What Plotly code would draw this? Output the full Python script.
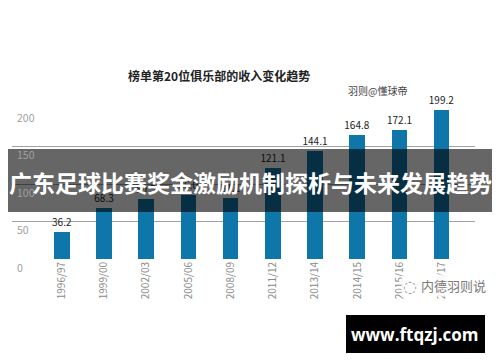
import plotly.graph_objects as go

seasons = ["1996/97", "1999/00", "2002/03", "2005/06", "2008/09",
           "2011/12", "2013/14", "2014/15", "2015/16", "2016/17"]
revenue = [36.2, 68.3, 80.5, 86.0, 81.1, 121.1, 144.1, 164.8, 172.1, 199.2]
y_ticks = [0, 50, 100, 150, 200]

title_text = "榜单第20位俱乐部的收入变化趋势"
subtitle_text = "羽则@懂球帝"
banner_text = "广东足球比赛奖金激励机制探析与未来发展趋势"
site_text = "www.ftqzj.com"
mark_text = "内德羽则说"

CJK = "Noto Sans CJK SC"
L, R, T, B = 12, 25, 109, 103
PW = 500 - L - R
PH = 362 - T - B


def px(x):
    return (x - L) / PW


def py(y):
    return (362 - B - y) / PH


fig = go.Figure()
fig.add_trace(go.Bar(
    x=list(range(len(seasons))), y=revenue,
    width=0.37,
    marker=dict(color="#0f76a9", line=dict(width=0)),
    text=[f"{v:.1f}" for v in revenue],
    textposition="outside",
    constraintext="none",
    textfont=dict(family=CJK, size=10, color="#222222"),
    cliponaxis=False,
))

annotations = [
    dict(text=str(t), xref="paper", yref="y", x=px(15), y=t, yshift=-8,
         showarrow=False, xanchor="left", yanchor="middle",
         font=dict(family=CJK, size=10.5, color="#a0a0a0"))
    for t in y_ticks
]
annotations += [
    dict(text="<b>" + title_text + "</b>", xref="paper", yref="paper",
         x=px(219), y=py(75), showarrow=False,
         xanchor="center", yanchor="middle",
         font=dict(family=CJK, size=12, color="#222222")),
    dict(text=subtitle_text, xref="paper", yref="paper",
         x=px(377), y=py(90), showarrow=False,
         xanchor="center", yanchor="middle",
         font=dict(family=CJK, size=10, color="#444444")),
    dict(text="<b>" + banner_text + "</b>", xref="paper", yref="paper",
         x=px(250), y=py(182), showarrow=False,
         xanchor="center", yanchor="middle",
         font=dict(family=CJK, size=23, color="white")),
    dict(text="<b>" + site_text + "</b>", xref="paper", yref="paper",
         x=px(415), y=py(334), showarrow=False,
         xanchor="center", yanchor="middle",
         font=dict(family="Open Sans", size=17, color="white")),
    dict(text="◌", xref="paper", yref="paper",
         x=px(410), y=py(286), showarrow=False,
         xanchor="center", yanchor="middle",
         bgcolor="rgba(255,255,255,0.85)",
         font=dict(family="DejaVu Sans", size=16, color="#9a9a9a")),
    dict(text=mark_text, xref="paper", yref="paper",
         x=px(453), y=py(285), showarrow=False,
         xanchor="center", yanchor="middle",
         bgcolor="rgba(255,255,255,0.85)",
         font=dict(family=CJK, size=13, color="#7a7a7a")),
]

fig.update_layout(
    width=500, height=362, autosize=False,
    margin=dict(l=L, r=R, t=T, b=B),
    paper_bgcolor="white", plot_bgcolor="white",
    showlegend=False,
    bargap=0,
    xaxis=dict(
        range=[-1.18, 9.79], automargin=False,
        tickmode="array", tickvals=list(range(len(seasons))), ticktext=seasons,
        tickangle=-90,
        tickfont=dict(family=CJK, size=10, color="#8a8a8a"),
        showgrid=False, zeroline=False, showline=False, ticks="",
        fixedrange=True,
    ),
    yaxis=dict(
        range=[0, 200], automargin=False,
        tickmode="array", tickvals=y_ticks, showticklabels=False,
        showgrid=True, gridcolor="#a0a0a0", gridwidth=1,
        zeroline=False, showline=False, ticks="",
        fixedrange=True,
    ),
    shapes=[
        dict(type="rect", xref="paper", yref="paper", layer="above",
             x0=px(8), x1=px(492), y0=py(149), y1=py(212),
             fillcolor="rgba(0,0,0,0.6)", line=dict(width=0)),
        dict(type="rect", xref="paper", yref="paper", layer="above",
             x0=px(346), x1=px(485), y0=py(315), y1=py(353),
             fillcolor="black", line=dict(width=0)),
    ],
    annotations=annotations,
)

fig.write_html("out.html", config={"displayModeBar": False},
               post_script="document.body.style.margin='0';")
